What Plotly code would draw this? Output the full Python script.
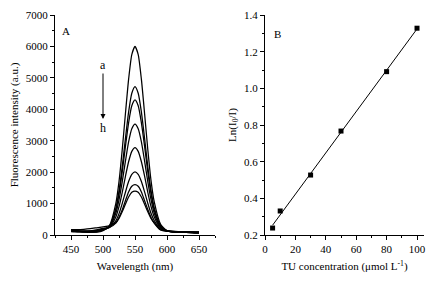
import numpy as np
import plotly.graph_objects as go

# ---------------- Data ----------------
wavelength = [450, 460, 470, 480, 490, 500, 510, 520, 525, 530, 535, 540, 545, 550,
              555, 560, 565, 570, 575, 580, 590, 600, 610, 620, 630, 640, 650]

spec_a = [150, 120, 100, 90, 90, 140, 300, 1000, 1700, 2700, 3850, 4950, 5740, 6000,
          5740, 4950, 3860, 2720, 1740, 1060, 340, 140, 100, 90, 80, 70, 60]
spec_b = [130, 110, 100, 90, 100, 150, 280, 840, 1400, 2170, 3060, 3910, 4510, 4720,
          4510, 3910, 3070, 2180, 1420, 870, 290, 130, 100, 90, 80, 70, 60]
spec_c = [120, 110, 100, 100, 110, 160, 270, 790, 1310, 2000, 2810, 3570, 4110, 4300,
          4110, 3570, 2820, 2010, 1320, 800, 270, 130, 100, 90, 80, 80, 70]
spec_d = [140, 120, 110, 110, 120, 170, 260, 690, 1120, 1690, 2340, 2960, 3380, 3530,
          3380, 2960, 2350, 1700, 1130, 700, 240, 130, 100, 90, 90, 80, 80]
spec_e = [110, 100, 100, 110, 130, 180, 240, 570, 900, 1350, 1860, 2330, 2660, 2780,
          2660, 2330, 1870, 1360, 910, 580, 210, 120, 100, 90, 90, 80, 80]
spec_f = [160, 140, 130, 130, 150, 200, 240, 450, 680, 1000, 1360, 1700, 1930, 2010,
          1930, 1700, 1370, 1010, 690, 460, 180, 120, 110, 100, 100, 90, 90]
spec_g = [130, 120, 120, 130, 160, 210, 240, 380, 560, 800, 1090, 1370, 1550, 1600,
          1550, 1370, 1090, 810, 560, 380, 160, 120, 110, 110, 100, 100, 90]
spec_h = [170, 170, 180, 200, 230, 260, 290, 390, 530, 740, 980, 1210, 1360, 1400,
          1360, 1210, 980, 740, 530, 390, 170, 130, 120, 110, 110, 100, 100]

tu_conc = [5, 10, 30, 50, 80, 100]
ln_ratio = [0.238, 0.331, 0.527, 0.767, 1.091, 1.328]

# ---------------- Figure ----------------
FONT = "Liberation Serif"
fig = go.Figure()

for s in [spec_a, spec_b, spec_c, spec_d, spec_e, spec_f, spec_g, spec_h]:
    fig.add_trace(go.Scatter(x=wavelength, y=s, mode="lines",
                             line=dict(color="black", width=1.25, shape="spline", smoothing=0.6),
                             xaxis="x", yaxis="y", showlegend=False, hoverinfo="skip"))

# Panel B points and linear fit
fit = np.polyfit(tu_conc, ln_ratio, 1)
fx = np.array([tu_conc[0], tu_conc[-1]])
fy = np.polyval(fit, fx)
fig.add_trace(go.Scatter(x=fx, y=fy, mode="lines", line=dict(color="black", width=1),
                         xaxis="x2", yaxis="y2", showlegend=False))
fig.add_trace(go.Scatter(x=tu_conc, y=ln_ratio, mode="markers",
                         marker=dict(symbol="square", size=5, color="black"),
                         xaxis="x2", yaxis="y2", showlegend=False))

# page body has an 8px default margin
OFF = 8
W, H = 446 - OFF, 283 - OFF
X0, X1, Y0, Y1 = 55, 424, 15, 235          # plot area in window pixels
L, T = X0 - OFF, Y0 - OFF
R, B = W - (X1 - OFF), H - (Y1 - OFF)
PW, PH = X1 - X0, Y1 - Y0
def px(x):
    return (x - X0) / PW
def py(y):
    return (Y1 - y) / PH

axis_common = dict(showline=True, linecolor="black", linewidth=1, ticks="outside",
                   ticklen=4, tickcolor="black", tickwidth=1, showgrid=False, zeroline=False,
                   automargin=False,
                   tickfont=dict(family=FONT, size=11, color="black"),
                   title_font=dict(family=FONT, size=11, color="black"))

fig.update_layout(
    width=W, height=H, margin=dict(l=L, r=R, t=T, b=B, autoexpand=False),
    paper_bgcolor="white", plot_bgcolor="white",
    font=dict(family=FONT, size=11, color="black"),
    xaxis=dict(axis_common, domain=[px(55), px(215)], range=[425, 675], dtick=50, tick0=450,
               minor=dict(ticks="outside", ticklen=2, tickcolor="black", dtick=25),
               title=dict(text="Wavelength (nm)", standoff=8), anchor="y"),
    yaxis=dict(axis_common, domain=[0, 1], range=[0, 7000], dtick=1000,
               minor=dict(ticks="outside", ticklen=2, tickcolor="black", dtick=500),
               title=dict(text="Fluorescence intensity (a.u.)", standoff=5), anchor="x"),
    xaxis2=dict(axis_common, domain=[px(265), px(424)], range=[0, 104.6], dtick=20, tick0=0,
                minor=dict(ticks="outside", ticklen=2, tickcolor="black", dtick=10),
                title=dict(text="TU concentration (μmol L<sup>-1</sup>)", standoff=8), anchor="y2"),
    yaxis2=dict(axis_common, domain=[0, 1], range=[0.2, 1.4], dtick=0.2,
                tickformat=".1f",
                minor=dict(ticks="outside", ticklen=2, tickcolor="black", dtick=0.1),
                title=dict(text="Ln(I<sub>0</sub>/I)", standoff=5), anchor="x2"),
    annotations=[
        dict(text="A", x=px(66), y=py(31), xref="paper", yref="paper", showarrow=False,
             font=dict(family=FONT, size=11), xanchor="center", yanchor="middle"),
        dict(text="B", x=px(277), y=py(34), xref="paper", yref="paper", showarrow=False,
             font=dict(family=FONT, size=11), xanchor="center", yanchor="middle"),
        dict(text="a", x=px(103), y=py(65), xref="paper", yref="paper", showarrow=False,
             font=dict(family=FONT, size=12), xanchor="center", yanchor="middle"),
        dict(text="h", x=px(103), y=py(128), xref="paper", yref="paper", showarrow=False,
             font=dict(family=FONT, size=12), xanchor="center", yanchor="middle"),
        dict(text="", x=px(103), y=py(119), ax=0, ay=-47,
             xref="paper", yref="paper",
             showarrow=True, arrowhead=2, arrowsize=1, arrowwidth=1, arrowcolor="black"),
    ],
)

fig.write_html("out.html")
